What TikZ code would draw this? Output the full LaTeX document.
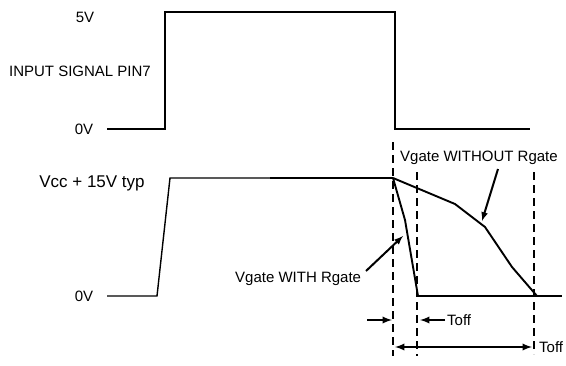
\documentclass[tikz,border=0pt]{standalone}
\usepackage{fontspec}
\setmainfont{Liberation Sans}
\usetikzlibrary{arrows}
\usetikzlibrary{math}

\begin{document}
\begin{tikzpicture}[x=1pt,y=-1pt,
  every node/.style={font=\fontsize{15}{18}\selectfont, inner sep=0pt},
  sig/.style={line width=2.4},
  thin sig/.style={line width=1.4},
  guide/.style={dashed, line width=1.6, dash pattern=on 8pt off 5pt},
  mark arrow/.style={-latex, line width=2.2},
  label arrow/.style={-latex, line width=2}]
\useasboundingbox (0,0) rectangle (566,365);
\tikzmath{
\xr=165; \xf=395; \ya=12; \yb=129;
\yh=178; \yl=296;
}
% input signal
\node (l5) at (85,17) {5V};
\node (lin) at (80,71) {INPUT SIGNAL PIN7};
\node (l0a) at (84,129) {0V};
\coordinate (a0) at (107,\yb);
\coordinate (a1) at (\xr,\yb);
\coordinate (a2) at (\xr,\ya);
\coordinate (a3) at (\xf,\ya);
\coordinate (a4) at (\xf,\yb);
\coordinate (a5) at (530,\yb);
\draw[sig] (a0) -- (a1) -- (a2) -- (a3) -- (a4) -- (a5);

% gate voltage
\node[font=\fontsize{17}{20}\selectfont] (lvcc) at (92,183) {Vcc + 15V typ};
\node (l0b) at (84,296) {0V};
\coordinate (g0) at (107,\yl);
\coordinate (g1) at (157,\yl);
\coordinate (g2) at (170,\yh);
\coordinate (g3) at (270,\yh);
\coordinate (g4) at (393,\yh);
\draw[thin sig] (g0) -- (g1) -- (g2) -- (g3);
\draw[sig] (g3) -- (g4);

% with Rgate
\coordinate (w1) at (405,220);
\coordinate (w2) at (418,\yl);
\draw[line width=1.9] (g4) -- (w1) -- (w2);
\draw[line width=2.8] (w2) -- (562,\yl);

% without Rgate
\draw[line width=1.9] (g4) -- (455,204) -- (485,227) -- (512,267) -- (537,\yl);

% guides
\draw[guide] (393,142) -- (393,356);
\draw[guide] (417,172) -- (417,356);
\draw[guide] (534,172) -- (534,354);

% labels
\node[anchor=west] (lwo) at (400,158) {Vgate WITHOUT Rgate};
\draw[label arrow] (498,169) -- (482,221);
\node[anchor=west] (lw) at (235,279) {Vgate WITH Rgate};
\draw[label arrow] (366,271) -- (403,236);

% times
\draw[mark arrow] (367,320) -- (392,320);
\draw[mark arrow] (445,320) -- (420,320);
\node[anchor=west] (t1) at (447,320) {Toff};
\draw[latex-latex, line width=2.2] (395,347) -- (532,347);
\node[anchor=west] (t2) at (539,347) {Toff};
\end{tikzpicture}
\end{document}
